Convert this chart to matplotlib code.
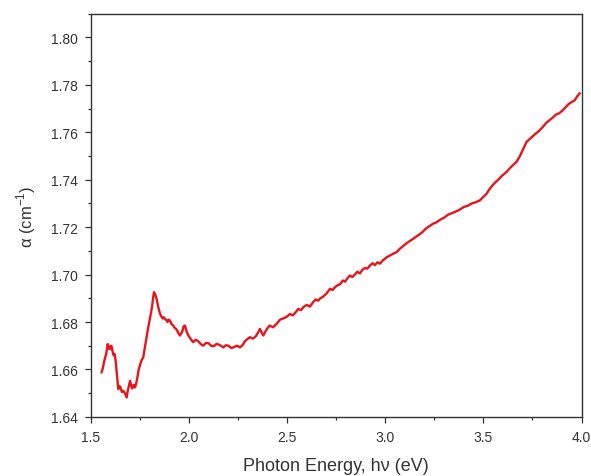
import matplotlib
matplotlib.use('Agg')
import matplotlib.pyplot as plt
from matplotlib.ticker import MultipleLocator

# absorption curve
energy = [1.554, 1.560, 1.566, 1.572, 1.578, 1.585, 1.590, 1.595, 1.600, 1.605,
          1.610, 1.615, 1.620, 1.625, 1.632, 1.639, 1.645, 1.650, 1.657, 1.665,
          1.672, 1.682, 1.686, 1.690, 1.695, 1.699, 1.705, 1.710, 1.717, 1.724,
          1.730, 1.735, 1.742, 1.750, 1.758, 1.766, 1.773, 1.780, 1.790, 1.800,
          1.806, 1.812, 1.817, 1.821, 1.828, 1.835, 1.842, 1.850, 1.857, 1.865,
          1.871, 1.877, 1.884, 1.890, 1.896, 1.902, 1.910, 1.919, 1.927, 1.935,
          1.944, 1.953, 1.960, 1.965, 1.972, 1.979, 1.987, 1.995, 2.008, 2.021,
          2.033, 2.045, 2.058, 2.072, 2.086, 2.10, 2.115, 2.13, 2.14, 2.15,
          2.162, 2.174, 2.187, 2.20, 2.215, 2.23, 2.245, 2.259, 2.272, 2.285,
          2.297, 2.31, 2.325, 2.34, 2.351, 2.361, 2.370, 2.378, 2.394, 2.41,
          2.428, 2.446, 2.463, 2.48, 2.497, 2.514, 2.528, 2.542, 2.556, 2.57,
          2.585, 2.60, 2.616, 2.632, 2.645, 2.657, 2.668, 2.68, 2.70, 2.718,
          2.731, 2.745, 2.757, 2.77, 2.783, 2.795, 2.807, 2.819, 2.832, 2.845,
          2.857, 2.87, 2.883, 2.896, 2.908, 2.921, 2.935, 2.947, 2.960, 2.972,
          2.988, 3.005, 3.022, 3.04, 3.058, 3.075, 3.09, 3.105, 3.122, 3.142,
          3.16, 3.175, 3.19, 3.208, 3.226, 3.244, 3.26, 3.28, 3.30, 3.318,
          3.336, 3.354, 3.375, 3.40, 3.42, 3.44, 3.46, 3.482, 3.497, 3.515,
          3.533, 3.555, 3.575, 3.596, 3.618, 3.634, 3.651, 3.669, 3.686, 3.703,
          3.72, 3.74, 3.76, 3.782, 3.804, 3.82, 3.835, 3.85, 3.87, 3.885,
          3.90, 3.918, 3.935, 3.95, 3.965, 3.978, 3.99]
alpha = [1.6588, 1.6605, 1.6630, 1.6650, 1.6668, 1.6707, 1.6690, 1.6685, 1.6700, 1.6698,
         1.6675, 1.6660, 1.6665, 1.6640, 1.6580, 1.6517, 1.6530, 1.6525, 1.6505, 1.6510,
         1.6500, 1.6482, 1.6505, 1.6520, 1.6540, 1.6552, 1.6530, 1.6520, 1.6535, 1.6524,
         1.6540, 1.6560, 1.6595, 1.6620, 1.6640, 1.6650, 1.6685, 1.6720, 1.6770, 1.6813,
         1.6840, 1.6870, 1.6905, 1.6926, 1.6915, 1.6895, 1.6865, 1.6840, 1.6825, 1.6815,
         1.6820, 1.6813, 1.6808, 1.6800, 1.6810, 1.6806, 1.6792, 1.6785, 1.6775, 1.6770,
         1.6755, 1.6743, 1.6752, 1.6760, 1.6782, 1.6785, 1.6760, 1.6745, 1.6728, 1.6715,
         1.6725, 1.6720, 1.6708, 1.6700, 1.6712, 1.6710, 1.6698, 1.6700, 1.6708, 1.6705,
         1.6700, 1.6693, 1.6702, 1.6700, 1.6690, 1.6695, 1.6700, 1.6693, 1.6702, 1.6720,
         1.6728, 1.6736, 1.6730, 1.6740, 1.6755, 1.6771, 1.6755, 1.6743, 1.6768, 1.6785,
         1.6778, 1.6792, 1.6810, 1.6815, 1.6822, 1.6834, 1.6828, 1.6840, 1.6855, 1.6850,
         1.6865, 1.6872, 1.6865, 1.6884, 1.6895, 1.6890, 1.6900, 1.6905, 1.6920, 1.6940,
         1.6935, 1.6948, 1.6955, 1.6960, 1.6975, 1.6970, 1.6985, 1.6996, 1.6990, 1.7000,
         1.7012, 1.7005, 1.7020, 1.7028, 1.7025, 1.7038, 1.7048, 1.7040, 1.7052, 1.7046,
         1.7060, 1.7072, 1.7080, 1.7088, 1.7095, 1.7110, 1.7120, 1.7130, 1.7140, 1.7151,
         1.7162, 1.7170, 1.7180, 1.7195, 1.7205, 1.7215, 1.7220, 1.7232, 1.7240, 1.7252,
         1.7258, 1.7264, 1.7272, 1.7285, 1.7290, 1.7300, 1.7305, 1.7313, 1.7325, 1.7340,
         1.7363, 1.7385, 1.7400, 1.7418, 1.7433, 1.7448, 1.7462, 1.7476, 1.7500, 1.7530,
         1.7560, 1.7575, 1.7590, 1.7605, 1.7624, 1.7640, 1.7650, 1.7660, 1.7675, 1.7680,
         1.7690, 1.7705, 1.7720, 1.7728, 1.7735, 1.7752, 1.7764]

plt.rcParams['font.family'] = ['Liberation Sans', 'DejaVu Sans']
plt.rcParams['mathtext.fontset'] = 'custom'
plt.rcParams['mathtext.rm'] = 'Liberation Sans'

fig = plt.figure(figsize=(5.91, 4.77), dpi=100)
ax = fig.add_axes([0.154, 0.124, 0.830, 0.845])

ax.plot(energy, alpha, color='#e8141c', linewidth=1.7)

ax.set_xlim(1.5, 4.0)
ax.set_ylim(1.64, 1.81)
ax.xaxis.set_major_locator(MultipleLocator(0.5))
ax.xaxis.set_minor_locator(MultipleLocator(0.25))
ax.yaxis.set_major_locator(MultipleLocator(0.02))
ax.yaxis.set_minor_locator(MultipleLocator(0.01))
ax.xaxis.set_major_formatter(plt.FormatStrFormatter('%.1f'))
ax.yaxis.set_major_formatter(plt.FormatStrFormatter('%.2f'))

ax.tick_params(which='major', direction='out', length=4.5, width=0.9, pad=5,
               labelsize=10, colors='#333333', top=False, right=False)
ax.tick_params(which='minor', direction='out', length=2.5, width=0.9,
               colors='#333333', top=False, right=False)
for s in ax.spines.values():
    s.set_linewidth(1.0)
    s.set_color('#333333')

ax.set_xlabel('Photon Energy, h\u03bd (eV)', fontsize=13, color='#333333', labelpad=9)
ax.set_ylabel('\u03b1 (cm$^{-1}$)', fontsize=12, color='#333333', labelpad=9)

fig.savefig('out.png', dpi=100)
